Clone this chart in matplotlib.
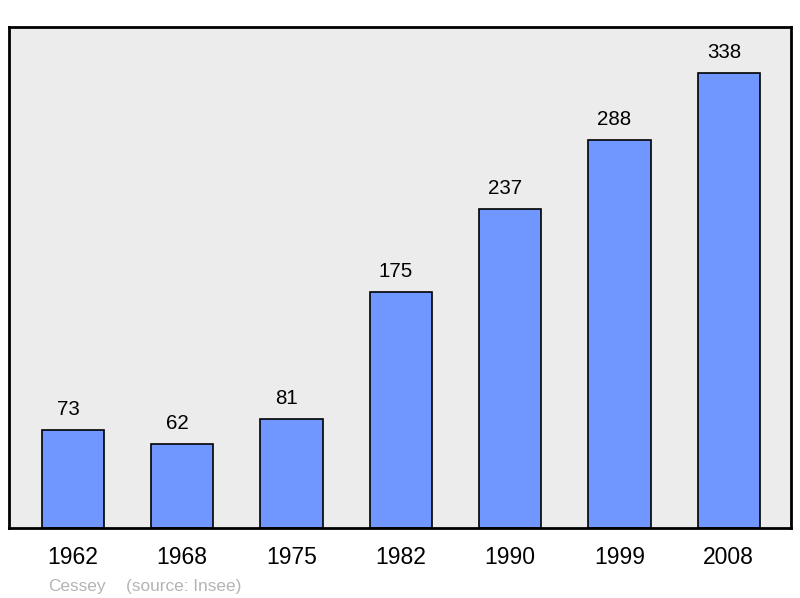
import matplotlib.pyplot as plt

years = ["1962", "1968", "1975", "1982", "1990", "1999", "2008"]
population = [73, 62, 81, 175, 237, 288, 338]
commune = "Cessey"
source = "(source: Insee)"

plt.rcParams['font.family'] = ['Liberation Sans', 'DejaVu Sans']

fig = plt.figure(figsize=(8, 5.98), dpi=100)
ax = fig.add_axes([0.01125, 0.1171, 0.9775, 0.8378])
ax.set_facecolor('#ececec')

x = range(len(years))
bars = ax.bar(x, population, width=0.57, color='#7097ff', edgecolor='black', linewidth=1.2)

for xi, v in zip(x, population):
    ax.annotate(str(v), (xi, v), xytext=(-3.5, 8), textcoords='offset points',
                ha='center', va='bottom', fontsize=14.8)

ax.set_xlim(-0.585, 6.57)
ax.set_ylim(0, 372)
ax.set_xticks(list(x))
ax.set_xticklabels(years, fontsize=16.5)
ax.tick_params(axis='x', length=0, pad=13)
ax.set_yticks([])
for s in ax.spines.values():
    s.set_linewidth(2)

fig.text(48 / 800, 1 - 586 / 598, commune, color='#b4b4b4', fontsize=12.4, va='center')
fig.text(126 / 800, 1 - 586 / 598, source, color='#b4b4b4', fontsize=12.4, va='center')

fig.savefig('out.png', dpi=100)
